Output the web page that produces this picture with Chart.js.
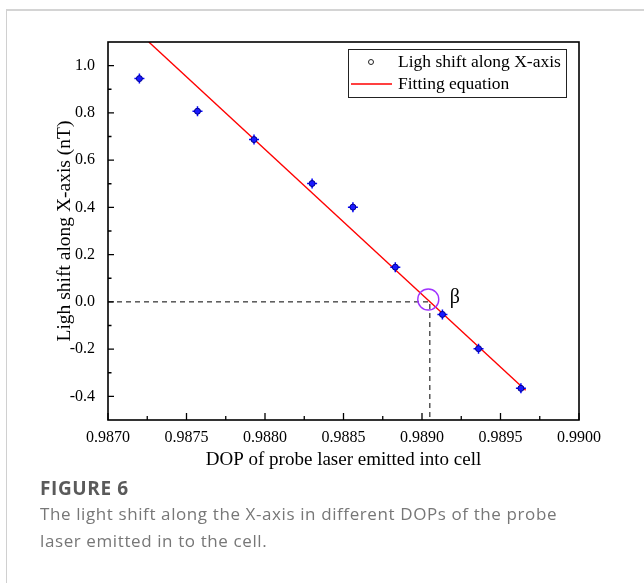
<!DOCTYPE html>
<html>
<head>
<meta charset="utf-8">
<script src="https://cdn.jsdelivr.net/npm/chart.js@4.4.1/dist/chart.umd.min.js"></script>
<style>
  html, body { margin: 0; padding: 0; background: #fff; }
  body { width: 644px; height: 583px; position: relative; overflow: hidden; }
  #frame { position: absolute; left: 6px; top: 9px; right: -10px; bottom: -10px;
           border-top: 2px solid #d4d4d4; border-left: 1px solid #d0d0d0; }
  #chart { position: absolute; left: 0; top: 0; }
  #figlabel { position: absolute; left: 40px; top: 474px; font-family: "Open Sans", sans-serif;
              font-weight: bold; font-size: 19px; line-height: 28px; letter-spacing: 0.6px; color: #5a5a5a; }
  #caption { position: absolute; left: 40px; top: 500px; font-family: "Open Sans", sans-serif;
             font-size: 17px; line-height: 27px; letter-spacing: 0.6px; color: #777; }
</style>
</head>
<body>
<div id="frame"></div>
<canvas id="chart" width="644" height="475"></canvas>
<div id="figlabel">FIGURE 6</div>
<div id="caption">The light shift along the X-axis in different DOPs of the probe<br>laser emitted in to the cell.</div>
<script>
// 测量数据 (DOP, 光频移 nT)
const dopValues   = [0.98720, 0.98757, 0.98793, 0.98830, 0.98856, 0.98883, 0.98913, 0.98936, 0.98963];
const shiftValues = [0.945, 0.807, 0.687, 0.501, 0.401, 0.147, -0.053, -0.198, -0.366];

// 拟合直线端点
const fitDop   = [0.98726, 0.98966];
const fitShift = [1.1, -0.374];

// 零点 β
const betaDop = 0.98905;
const betaShift = 0.0;

// 坐标轴刻度
const xTicks = [0.9870, 0.9875, 0.9880, 0.9885, 0.9890, 0.9895, 0.9900];
const xMinorTicks = [0.98725, 0.98775, 0.98825, 0.98875, 0.98925, 0.98975];
const yTicks = [-0.4, -0.2, 0.0, 0.2, 0.4, 0.6, 0.8, 1.0];
const yMinorTicks = [-0.3, -0.1, 0.1, 0.3, 0.5, 0.7, 0.9];

const legendLabels = ['Ligh shift along X-axis', 'Fitting equation'];

const points = dopValues.map((x, i) => ({ x: x, y: shiftValues[i] }));
const fitPoints = fitDop.map((x, i) => ({ x: x, y: fitShift[i] }));
const serif = '"Liberation Serif", "Times New Roman", serif';

// 边框、内向刻度、β 标注和图例
const framePlugin = {
    id: 'frame',
    afterDatasetsDraw(chart) {
        const ctx = chart.ctx;
        const a = chart.chartArea;
        const xs = chart.scales.x, ys = chart.scales.y;
        ctx.save();
        ctx.strokeStyle = '#000';
        ctx.lineWidth = 1.6;
        ctx.strokeRect(a.left, a.top, a.right - a.left, a.bottom - a.top);

        ctx.lineWidth = 1.3;
        ctx.beginPath();
        yTicks.forEach(v => { const p = ys.getPixelForValue(v); ctx.moveTo(a.left, p); ctx.lineTo(a.left + 6, p); });
        yMinorTicks.forEach(v => { const p = ys.getPixelForValue(v); ctx.moveTo(a.left, p); ctx.lineTo(a.left + 3.5, p); });
        xTicks.forEach(v => { const p = xs.getPixelForValue(v); ctx.moveTo(p, a.bottom); ctx.lineTo(p, a.bottom - 7); });
        xMinorTicks.forEach(v => { const p = xs.getPixelForValue(v); ctx.moveTo(p, a.bottom); ctx.lineTo(p, a.bottom - 4); });
        ctx.stroke();

        // β
        ctx.fillStyle = '#000';
        ctx.font = '20px ' + serif;
        ctx.textBaseline = 'middle';
        ctx.fillText('β', xs.getPixelForValue(betaDop) + 20, ys.getPixelForValue(betaShift) - 4);

        // 图例
        const lx = a.right - 231, ly = a.top + 7, lw = 218, lh = 48;
        ctx.fillStyle = '#fff';
        ctx.fillRect(lx, ly, lw, lh);
        ctx.strokeStyle = '#222';
        ctx.lineWidth = 1;
        ctx.strokeRect(lx + 0.5, ly + 0.5, lw, lh);
        ctx.beginPath();
        ctx.arc(lx + 23, ly + 13, 2.5, 0, Math.PI * 2);
        ctx.stroke();
        ctx.strokeStyle = '#ff0000';
        ctx.lineWidth = 1.3;
        ctx.beginPath();
        ctx.moveTo(lx + 3, ly + 35);
        ctx.lineTo(lx + 44, ly + 35);
        ctx.stroke();
        ctx.fillStyle = '#000';
        ctx.font = '17.5px ' + serif;
        ctx.fillText(legendLabels[0], lx + 50, ly + 13);
        ctx.fillText(legendLabels[1], lx + 50, ly + 35);
        ctx.restore();
    }
};

new Chart(document.getElementById('chart'), {
    type: 'scatter',
    data: {
        datasets: [
            {
                label: legendLabels[0],
                data: points,
                pointStyle: 'circle',
                pointRadius: 3,
                backgroundColor: '#1a1aff',
                borderColor: '#00008b',
                borderWidth: 1,
                order: 0
            },
            {
                label: 'error',
                data: points,
                pointStyle: 'cross',
                pointRadius: 5,
                borderColor: '#0000ff',
                borderWidth: 1.5,
                order: 1
            },
            {
                label: legendLabels[1],
                data: fitPoints,
                showLine: true,
                borderColor: '#ff0000',
                borderWidth: 1.4,
                pointRadius: 0,
                order: 2
            },
            {
                label: 'guide',
                data: [{ x: 0.9870, y: betaShift }, { x: betaDop, y: betaShift }, { x: betaDop, y: -0.5 }],
                showLine: true,
                borderColor: '#000',
                borderWidth: 1,
                borderDash: [5, 4],
                pointRadius: 0,
                order: 3
            },
            {
                label: 'beta',
                data: [{ x: betaDop - 0.00001, y: betaShift + 0.01 }],
                pointStyle: 'circle',
                pointRadius: 10.5,
                backgroundColor: 'rgba(0,0,0,0)',
                borderColor: '#a033ff',
                borderWidth: 1.4,
                order: 0
            }
        ]
    },
    options: {
        responsive: false,
        animation: false,
        devicePixelRatio: 1,
        layout: { padding: { top: 42, right: 65, left: 0, bottom: 0 } },
        plugins: {
            legend: { display: false },
            tooltip: { enabled: false }
        },
        scales: {
            x: {
                type: 'linear',
                min: 0.9870,
                max: 0.9900,
                afterFit: s => { s.height = 55; },
                afterBuildTicks: s => { s.ticks = xTicks.map(v => ({ value: v })); },
                grid: { display: false, drawTicks: false },
                border: { display: false },
                ticks: {
                    padding: 8,
                    color: '#000',
                    font: { family: serif, size: 16 },
                    maxRotation: 0,
                    callback: v => v.toFixed(4)
                },
                title: {
                    display: true,
                    text: 'DOP of probe laser emitted into cell',
                    color: '#000',
                    font: { family: serif, size: 19 },
                    padding: { top: 0, bottom: 3.5 }
                }
            },
            y: {
                type: 'linear',
                min: -0.5,
                max: 1.1,
                afterFit: s => { s.width = 108; },
                afterBuildTicks: s => { s.ticks = yTicks.map(v => ({ value: v })); },
                grid: { display: false, drawTicks: false },
                border: { display: false },
                ticks: {
                    padding: 13,
                    color: '#000',
                    font: { family: serif, size: 16 },
                    callback: v => v.toFixed(1)
                },
                title: {
                    display: true,
                    text: 'Ligh shift along X-axis (nT)',
                    color: '#000',
                    font: { family: serif, size: 19.5 },
                    padding: { top: 53, bottom: 0 }
                }
            }
        }
    },
    plugins: [framePlugin]
});
</script>
</body>
</html>
